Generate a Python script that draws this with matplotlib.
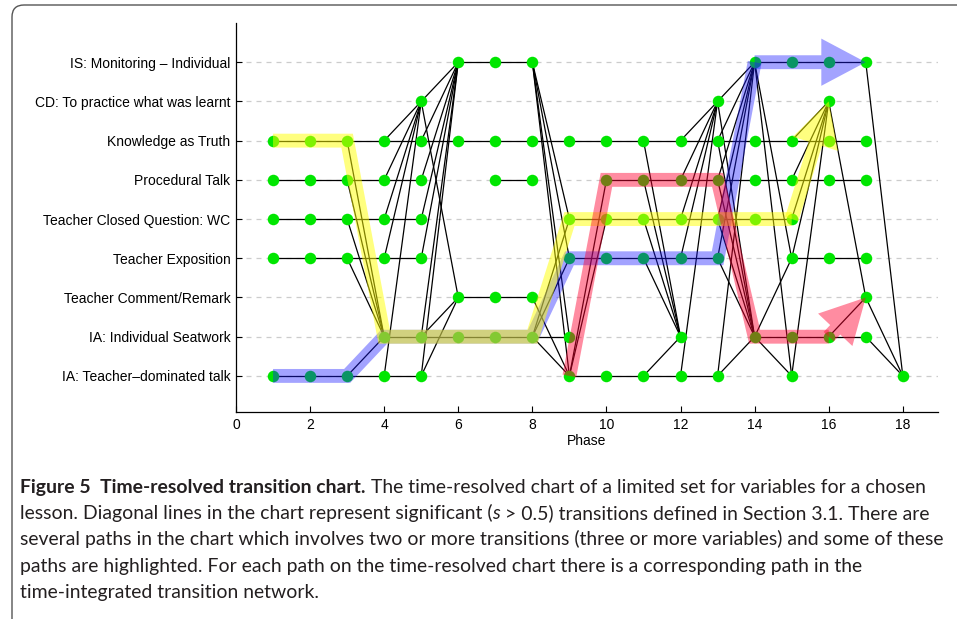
import matplotlib
matplotlib.use('Agg')
import matplotlib.pyplot as plt
from matplotlib.patches import FancyBboxPatch, ArrowStyle
from matplotlib.transforms import IdentityTransform

# categories, bottom row first (row number = index + 1)
categories = ['IA: Teacher\u2013dominated talk', 'IA: Individual Seatwork',
              'Teacher Comment/Remark', 'Teacher Exposition',
              'Teacher Closed Question: WC', 'Procedural Talk',
              'Knowledge as Truth', 'CD: To practice what was learnt',
              'IS: Monitoring \u2013 Individual']

# phases in which each category is active
node_phases = [
    [1, 2, 3, 4, 5, 9, 10, 11, 12, 13, 15, 18],
    [4, 5, 6, 7, 8, 9, 12, 14, 15, 16, 17],
    [6, 7, 8, 17],
    [1, 2, 3, 4, 5, 9, 10, 11, 12, 13, 15, 16, 17],
    [1, 2, 3, 4, 5, 9, 10, 11, 12, 13, 14, 15],
    [1, 2, 3, 4, 5, 7, 8, 10, 11, 12, 13, 14, 15, 16, 17],
    [1, 2, 3, 4, 5, 6, 7, 8, 9, 10, 11, 12, 13, 14, 15, 16, 17],
    [5, 13, 16],
    [6, 7, 8, 14, 15, 16, 17],
]

# runs where a category persists over consecutive phases
persist_runs = [
    [(1, 5), (9, 13)],
    [(4, 9), (14, 17)],
    [(6, 8)],
    [(1, 5), (9, 13), (15, 17)],
    [(1, 5), (9, 15)],
    [(1, 5), (7, 8), (10, 17)],
    [(1, 17)],
    [],
    [(6, 8), (14, 17)],
]

# significant transitions: (phase, from row, to row) -> phase+1
transitions = [
    (3, 7, 2), (3, 6, 2), (3, 5, 2), (3, 4, 2), (3, 1, 2),
    (4, 7, 8), (4, 6, 8), (4, 5, 8), (4, 4, 8), (4, 1, 8),
    (5, 8, 9), (5, 7, 9), (5, 6, 9), (5, 5, 9), (5, 4, 9), (5, 2, 9), (5, 1, 9),
    (5, 8, 3), (5, 2, 3), (5, 1, 3),
    (8, 9, 5), (8, 9, 4), (8, 9, 2), (8, 9, 1), (8, 3, 1), (8, 2, 1),
    (8, 2, 5), (8, 2, 4),
    (9, 1, 6), (9, 1, 5),
    (11, 7, 2), (11, 6, 2), (11, 5, 2), (11, 4, 2), (11, 1, 2),
    (12, 7, 8), (12, 6, 8), (12, 5, 8), (12, 4, 8), (12, 1, 8),
    (13, 8, 9), (13, 7, 9), (13, 6, 9), (13, 5, 9), (13, 4, 9), (13, 1, 9),
    (13, 8, 2), (13, 7, 2), (13, 6, 2), (13, 5, 2), (13, 4, 2), (13, 1, 2),
    (14, 9, 4), (14, 9, 1), (14, 2, 1), (14, 2, 4),
    (15, 7, 8), (15, 6, 8), (15, 5, 8), (15, 4, 8), (15, 1, 8),
    (16, 8, 3), (16, 2, 3),
    (17, 9, 1), (17, 3, 1), (17, 2, 1),
]

# highlighted paths (phase, row); last point is the arrow tip
yellow_path = [(1, 7), (3, 7), (4, 2), (8, 2), (9, 5), (15, 5), (16, 8)]
blue_path = [(1, 1), (3, 1), (4, 2), (8, 2), (9, 4), (13, 4), (14, 9), (17, 9)]
red_path = [(9, 1), (10, 6), (13, 6), (14, 2), (16, 2), (17, 3)]

x_ticks = [0, 2, 4, 6, 8, 10, 12, 14, 16, 18]

caption_lines = [
    [('Figure 5  Time-resolved transition chart.', 'bold'),
     (' The time-resolved chart of a limited set for variables for a chosen', 'normal')],
    [('lesson. Diagonal lines in the chart represent significant (', 'normal'),
     ('s', 'italic'),
     (' > 0.5) transitions defined in Section 3.1. There are', 'normal')],
    [('several paths in the chart which involves two or more transitions '
      '(three or more variables) and some of these', 'normal')],
    [('paths are highlighted. For each path on the time-resolved chart '
      'there is a corresponding path in the', 'normal')],
    [('time-integrated transition network.', 'normal')],
]

W, H = 957, 619
fig = plt.figure(figsize=(W / 100, H / 100), dpi=100)

# outer rounded frame (pixel coordinates)
frame = FancyBboxPatch((12, -40), 980, H - 5 + 40,
                       boxstyle='round,pad=0,rounding_size=12',
                       transform=IdentityTransform(), fill=False,
                       ec='#555555', lw=1.0)
fig.add_artist(frame)

ax = fig.add_axes([236 / W, 1 - 412 / H, (938 - 236) / W, (412 - 23) / H])
rows = list(range(1, len(categories) + 1))

for y in rows:
    ax.axhline(y, color='#cccccc', lw=0.9, ls=(0, (4, 4)), zorder=0)

for y, runs in zip(rows, persist_runs):
    for a, b in runs:
        ax.plot([a, b], [y, y], color='black', lw=0.9, zorder=2)

for t, r0, r1 in transitions:
    ax.plot([t, t + 1], [r0, r1], color='black', lw=0.9, zorder=2)

for y, phases in zip(rows, node_phases):
    ax.plot(phases, [y] * len(phases), 'o', color='#00e600', ms=8.3,
            mec='none', zorder=3)


def highlight(path, color, alpha):
    xs = [p[0] for p in path[:-1]]
    ys = [p[1] for p in path[:-1]]
    ax.plot(xs, ys, color=color, alpha=alpha, lw=10, solid_capstyle='butt',
            solid_joinstyle='miter', zorder=4)
    style = ArrowStyle.Simple(head_length=1.6, head_width=1.7, tail_width=0.5)
    ax.annotate('', xy=path[-1], xytext=path[-2],
                arrowprops=dict(arrowstyle=style, mutation_scale=20,
                                fc=color, ec='none', alpha=alpha,
                                shrinkA=0, shrinkB=0), zorder=4)


highlight(blue_path, '#1a1aff', 0.4)
highlight(yellow_path, '#ffff00', 0.5)
highlight(red_path, '#ff0030', 0.45)

ax.set_xlim(0, 18.95)
ax.set_ylim(0.08, 10.0)
ax.set_xticks(x_ticks)
ax.set_xticklabels([str(v) for v in x_ticks], fontsize=10, family='Liberation Sans')
ax.set_yticks(rows)
ax.set_yticklabels(categories, fontsize=10, family='Liberation Sans')
ax.set_xlabel('Phase', fontsize=10, family='Liberation Sans', labelpad=2)
ax.tick_params(direction='in', length=4, width=0.8, pad=4)
for side in ['top', 'right']:
    ax.spines[side].set_visible(False)
for side in ['left', 'bottom']:
    ax.spines[side].set_linewidth(0.9)

# caption
renderer = fig.canvas.get_renderer()


def style_kw(style):
    if style == 'bold':
        return {'fontweight': 'bold'}
    if style == 'italic':
        return {'fontstyle': 'italic'}
    return {}


def seg_width(txt, style, size):
    kw = style_kw(style)
    t1 = fig.text(0, 0, txt + '|', fontsize=size, family='Lato', **kw)
    t2 = fig.text(0, 0, '|', fontsize=size, family='Lato', **kw)
    w = t1.get_window_extent(renderer).width - t2.get_window_extent(renderer).width
    t1.remove()
    t2.remove()
    return w


ref = caption_lines[2][0][0]
cap_size = 10 * 924 / seg_width(ref, 'normal', 10)

baselines = [493, 519, 545, 572, 598]
for segs, base in zip(caption_lines, baselines):
    x = 20
    for txt, style in segs:
        fig.text(x, H - base, txt, transform=IdentityTransform(),
                 fontsize=cap_size, family='Lato', va='baseline', ha='left',
                 color='#231f20', **style_kw(style))
        x += seg_width(txt, style, cap_size)

fig.savefig('out.png', dpi=100)
plt.close(fig)
